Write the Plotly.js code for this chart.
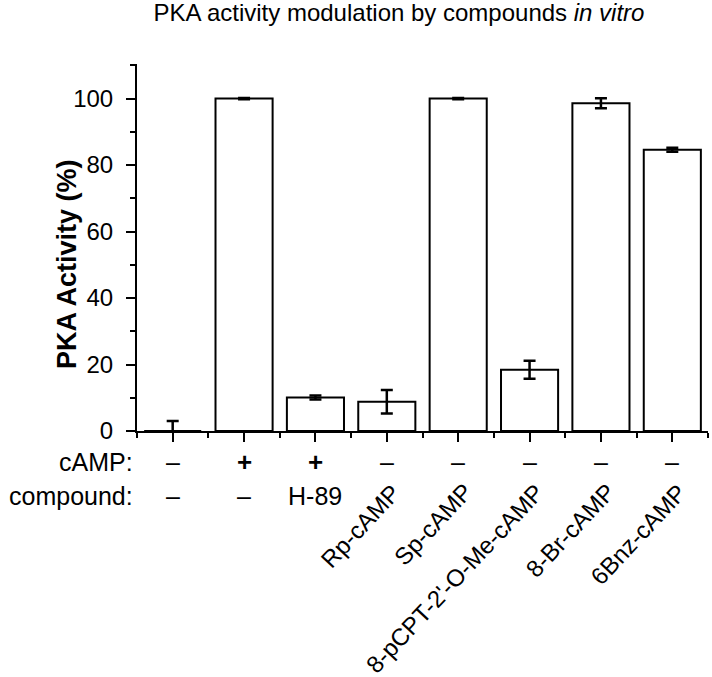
<!DOCTYPE html>
<html>
<head>
<meta charset="utf-8">
<script src="https://cdn.plot.ly/plotly-3.0.1.min.js"></script>
<style>html,body{margin:0;padding:0;background:#fff;}#chart{width:712px;height:677px;}</style>
</head>
<body>
<div id="chart"></div>
<script>
// ---- data ----
const compoundLabels = ["–", "–", "H-89", "Rp-cAMP", "Sp-cAMP", "8-pCPT-2'-O-Me-cAMP", "8-Br-cAMP", "6Bnz-cAMP"];
const campLabels = ["–", "+", "+", "–", "–", "–", "–", "–"];
const activity = [0, 100, 10.1, 8.8, 100, 18.4, 98.6, 84.6];
const activityErr = [3.0, 0.2, 0.6, 3.5, 0.2, 2.7, 1.5, 0.6];
const yTicks = [0, 20, 40, 60, 80, 100];

// ---- layout geometry ----
const W = 712, H = 677;
const M = {l: 137, r: 4, t: 64, b: 246};
const plotH = H - M.t - M.b;
const plotW = W - M.l - M.r;
const py2y = py => (H - M.b - py) / plotH;
const px2x = px => (px - M.l) / plotW;
const FONT = "Liberation Sans, Arial, sans-serif";

const xIdx = compoundLabels.map((_, i) => i);

const trace = {
  type: "bar",
  x: xIdx,
  y: activity,
  width: 0.8,
  marker: {color: "#ffffff", line: {color: "#000000", width: 2}},
  error_y: {type: "data", array: activityErr, visible: true, color: "#000000", thickness: 2.5, width: 6},
  hoverinfo: "skip"
};

const annotations = [];
// row labels
annotations.push({xref: "paper", yref: "paper", x: px2x(135), y: py2y(462), xanchor: "right", yanchor: "middle",
  text: "cAMP:", showarrow: false, font: {family: FONT, size: 25, color: "#000"}});
annotations.push({xref: "paper", yref: "paper", x: px2x(135), y: py2y(496), xanchor: "right", yanchor: "middle",
  text: "compound:", showarrow: false, font: {family: FONT, size: 25, color: "#000"}});
campLabels.forEach((t, i) => {
  annotations.push({xref: "x", yref: "paper", x: xIdx[i], y: py2y(462), xanchor: "center", yanchor: "middle",
    text: t === "+" ? "<b>+</b>" : t, showarrow: false, font: {family: FONT, size: t === "+" ? 26 : 25, color: "#000"}});
});
compoundLabels.forEach((t, i) => {
  if (t.length <= 4) {
    annotations.push({xref: "x", yref: "paper", x: xIdx[i], y: py2y(496), xanchor: "center", yanchor: "middle",
      text: t, showarrow: false, font: {family: FONT, size: 25, color: "#000"}});
  } else {
    annotations.push({xref: "x", yref: "paper", x: xIdx[i], xshift: 22, y: py2y(476), xanchor: "right", yanchor: "top",
      text: t, textangle: -47, showarrow: false, font: {family: FONT, size: 24, color: "#000"}});
  }
});
// y-axis title
annotations.push({xref: "paper", yref: "paper", x: px2x(67), y: py2y(264), xanchor: "center", yanchor: "middle",
  text: "<b>PKA Activity (%)</b>", textangle: -90, showarrow: false, font: {family: FONT, size: 27, color: "#000"}});

const layout = {
  width: W, height: H,
  margin: M,
  paper_bgcolor: "#fff", plot_bgcolor: "#fff",
  showlegend: false,
  font: {family: FONT, color: "#000"},
  title: {text: "PKA activity modulation by compounds <i>in vitro</i>", x: 399 / W, xanchor: "center",
    y: 1 - 13 / H, yanchor: "middle", yref: "container", font: {family: FONT, size: 24, color: "#000"}},
  xaxis: {
    type: "linear", range: [-0.5, 7.5], showgrid: false, zeroline: false,
    showline: true, linecolor: "#000", linewidth: 2,
    tickmode: "linear", tick0: 0, dtick: 1, ticks: "outside", ticklen: 9, tickwidth: 2, tickcolor: "#000",
    showticklabels: false,
    minor: {tick0: 0, dtick: 0.5, ticks: "outside", ticklen: 5, tickwidth: 2, tickcolor: "#000", showgrid: false}
  },
  yaxis: {
    range: [0, 110.4], showgrid: false, zeroline: false,
    showline: true, linecolor: "#000", linewidth: 2,
    tickmode: "array", tickvals: yTicks, ticktext: yTicks.map(String),
    ticks: "outside", ticklen: 9, tickwidth: 2, tickcolor: "#000",
    tickfont: {family: FONT, size: 24, color: "#000"}, ticklabelstandoff: 8,
    minor: {tick0: 0, dtick: 10, ticks: "outside", ticklen: 5, tickwidth: 2, tickcolor: "#000", showgrid: false}
  },
  annotations: annotations
};

Plotly.newPlot("chart", [trace], layout, {displayModeBar: false, staticPlot: true});
</script>
</body>
</html>
